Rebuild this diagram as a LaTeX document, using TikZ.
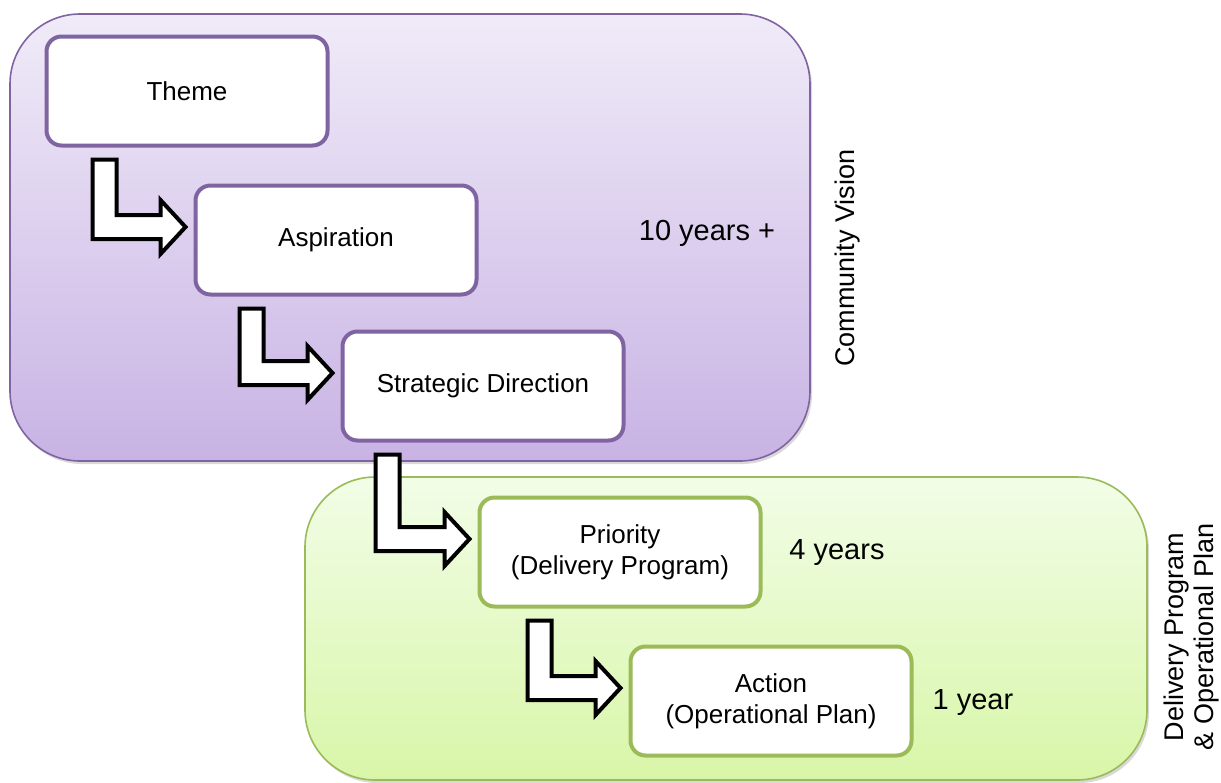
\documentclass[tikz,border=0pt]{standalone}
\usepackage{fontspec}
\setmainfont{Liberation Sans}
\usepackage{tikz}
\usetikzlibrary{calc, shadows, positioning}

\definecolor{visionline}{HTML}{8064A2}
\definecolor{visiontop}{HTML}{F0EBF8}
\definecolor{visionbot}{HTML}{C8B3E4}
\definecolor{planline}{HTML}{9BBB59}
\definecolor{plantop}{HTML}{F2FDE7}
\definecolor{planbot}{HTML}{D8F6A8}

\tikzset{
  panel/.style={line width=0.8pt, rounded corners=35pt,
    drop shadow={opacity=0.3, shadow xshift=1pt, shadow yshift=-1.5pt}},
  planbox/.style={draw, fill=white, line width=2pt, rounded corners=7.5pt,
    minimum width=140.5pt, minimum height=54.5pt, align=center},
  bentarr/.style={draw=black, fill=white, line width=2pt, line join=miter},
  spanlabel/.style={font=\fontsize{14.5}{17}\selectfont},
  sidelabel/.style={rotate=90, align=center, font=\fontsize{13.5}{15}\selectfont}
}

\begin{document}
\begin{tikzpicture}[x=0.5pt, y=-0.5pt, font=\fontsize{13}{15.5}\selectfont]
\useasboundingbox (0,0) rectangle (1221,782);

% the two stages
\draw[panel, draw=visionline, top color=visiontop, bottom color=visionbot]
  (10,14) rectangle (810,461);
\draw[panel, draw=planline, top color=plantop, bottom color=planbot]
  (305,477) rectangle (1147,780);

% hierarchy boxes
\node[planbox, draw=visionline] (theme) at (187,91) {Theme};
\node[planbox, draw=visionline] (aspiration) at (336,240) {Aspiration};
\node[planbox, draw=visionline] (strategic) at (483,386) {Strategic Direction};
\node[planbox, draw=planline] (priority) at (620,552) {Priority\\(Delivery Program)};
\node[planbox, draw=planline] (action) at (771,701) {Action\\(Operational Plan)};

% bent arrows between levels
\foreach \src/\dx/\dst in {theme/48/aspiration, aspiration/46/strategic,
                           strategic/35/priority, priority/50/action} {
  \draw[bentarr] let \p1=($(\src.south west)+(\dx,12)$),
                     \p2=($(\dst.west)+(-8,-13)$) in
    (\x1,\y1) -- (\x1+12pt,\y1) -- (\x1+12pt,\y2+6pt)
    -- (\x2-12.5pt,\y2+6pt) -- (\x2-12.5pt,\y2+13.5pt) -- (\x2,\y2)
    -- (\x2-12.5pt,\y2-13.5pt) -- (\x2-12.5pt,\y2-6pt) -- (\x1,\y2-6pt) -- cycle;
}

% time spans
\node[spanlabel] (ten) at (707,233) {10 years +};
\node[spanlabel] (four) at (837,553) {4 years};
\node[spanlabel] (one) at (973,703) {1 year};

% stage names
\node[sidelabel] (vision) at (848,258) {Community Vision};
\node[sidelabel] (plans) at (1192,637) {Delivery Program\\\& Operational Plan};
\end{tikzpicture}
\end{document}
